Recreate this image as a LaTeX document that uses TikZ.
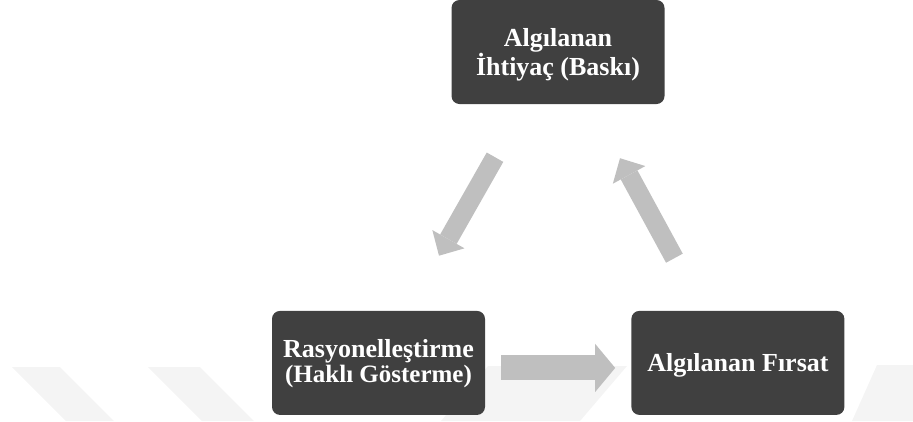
\documentclass[tikz,border=0pt]{standalone}
\usepackage{fontspec}
\setmainfont{Liberation Serif}
\usetikzlibrary{positioning,calc,arrows.meta}

\definecolor{boxgray}{RGB}{64,64,64}
\definecolor{arrowgray}{RGB}{191,191,191}
\definecolor{markgray}{RGB}{244,244,244}

\newcommand{\topstrut}[1]{\rule{0pt}{#1}}

\begin{document}
\begin{tikzpicture}[
x=1pt, y=1pt,
every node/.style={
align=center,
text=white,
font=\bfseries\fontsize{26}{25}\selectfont
}
]

% =====================================================
% Styles
% =====================================================

\tikzstyle{box} =
[rectangle, rounded corners=8pt,
fill=boxgray,
minimum width=213pt,
minimum height=104pt,
inner sep=0pt]

\tikzstyle{arrow} =
[line width=19pt, draw=arrowgray,
-{Triangle[width=37pt,length=19pt,line width=0pt]}]

\tikzstyle{widearrow} =
[line width=25pt, draw=arrowgray,
-{Triangle[width=48pt,length=20pt,line width=0pt]}]

\tikzstyle{watermark} =
[fill=markgray]

\useasboundingbox (0,0) rectangle (913,-421);

% =====================================================
% Background stripes
% =====================================================

\fill [watermark] (12,-367) -- (60,-367) -- (114,-421) -- (66,-421) -- cycle;
\fill [watermark] (148,-367) -- (200,-367) -- (254,-421) -- (202,-421) -- cycle;
\fill [watermark] (488,-366) -- (627,-366) -- (580,-421) -- (441,-421) -- cycle;
\fill [watermark] (877,-365) -- (913,-365) -- (913,-421) -- (852,-421) -- cycle;

% =====================================================
% Nodes
% =====================================================

\node (ihtiyac) [box] at (558,-52)
{\topstrut{23pt}Algılanan\\İhtiyaç (Baskı)};

\node (rasyonel) [box, below=206.5pt of ihtiyac, xshift=-179.5pt]
{\topstrut{20pt}Rasyonelleştirme\\{\fontsize{25}{25}\selectfont(Haklı Gösterme)}};

\node (firsat) [box, right=146pt of rasyonel]
{\topstrut{23pt}Algılanan Fırsat};

% =====================================================
% Arrows
% =====================================================

\draw [arrow] ($(ihtiyac.south)+(-63,-53)$) -- ($(rasyonel.north)+(60.5,55)$);

\draw [arrow] ($(firsat.north)+(-63.5,52.5)$) -- ($(ihtiyac.south)+(62,-54)$);

\draw [widearrow] ($(rasyonel.east)+(16,-5)$) -- ($(firsat.west)+(-16,-5)$);

\end{tikzpicture}
\end{document}
